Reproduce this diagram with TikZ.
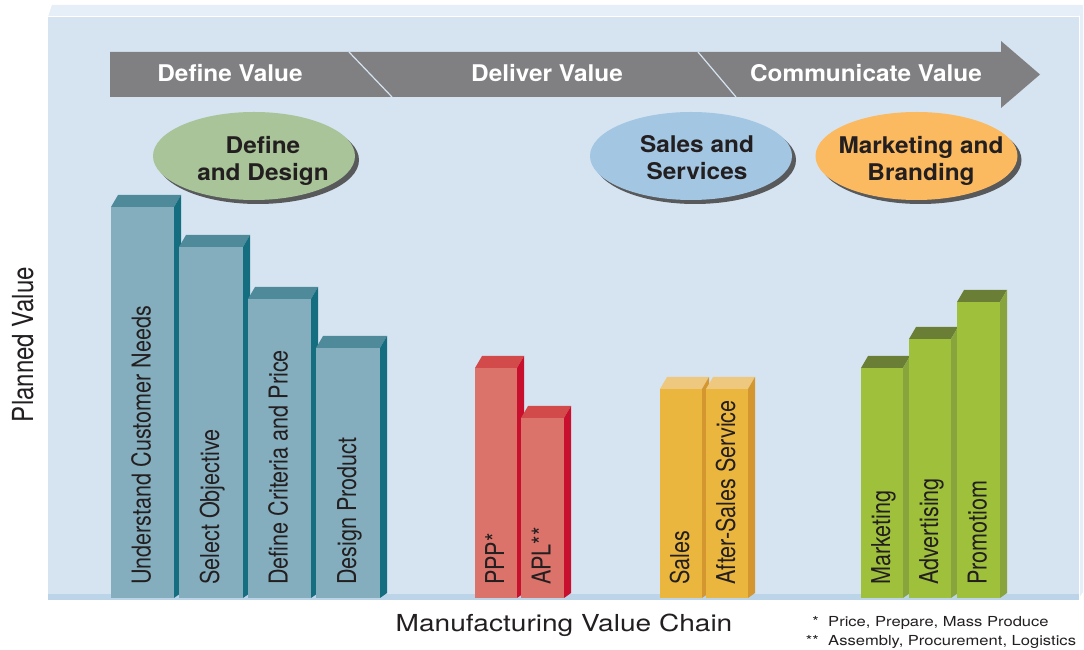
\documentclass[tikz,border=0pt]{standalone}
\usepackage{fontspec}
\setmainfont{TeX Gyre Heros}
\newfontfamily\widefont[FakeStretch=1.2]{TeX Gyre Heros}
\newfontfamily\tallfont[FakeStretch=0.83]{TeX Gyre Heros}
\newfontfamily\headfont[FakeStretch=1.06]{TeX Gyre Heros}
\usetikzlibrary{shapes.geometric,shadows,positioning}

\definecolor{ink}{HTML}{231F20}
\definecolor{panelfront}{HTML}{D6E4F1}
\definecolor{paneltop}{HTML}{E6EEF7}
\definecolor{floorline}{HTML}{BCD4E8}
\definecolor{arrowgray}{HTML}{808083}
\definecolor{shadowgray}{HTML}{58595B}
\definecolor{tealfront}{HTML}{84ADBD}
\definecolor{tealtop}{HTML}{4F8A9B}
\definecolor{tealside}{HTML}{146E80}
\definecolor{redfront}{HTML}{DC736B}
\definecolor{redtop}{HTML}{D24A4A}
\definecolor{redside}{HTML}{C8102E}
\definecolor{yelfront}{HTML}{EBB63E}
\definecolor{yeltop}{HTML}{EEC87F}
\definecolor{yelside}{HTML}{D4962F}
\definecolor{grnfront}{HTML}{9FC03B}
\definecolor{grntop}{HTML}{6A7E35}
\definecolor{grnside}{HTML}{87A43D}
\definecolor{dfill}{HTML}{A8C498}
\definecolor{sfill}{HTML}{A3C6E2}
\definecolor{mfill}{HTML}{FBB960}

% one 3D bar: name, colour, left x, width, height, label
\newcommand{\valuebar}[6]{%
  \node[barfront, fill=#2front, minimum width=#4, minimum height=#5] (#1) at (#3,52) {};
  \fill[#2top] (#1.north west) -- ++(7,12) -- ([shift={(7,12)}]#1.north east) -- (#1.north east) -- cycle;
  \fill[#2side] (#1.north east) -- ++(7,12) -- ([shift={(7,5)}]#1.south east) -- (#1.south east) -- cycle;
  \node[barlabel] (#1-label) at ([shift={(8,13)}]#1.south) {#6};
}

\begin{document}
\begin{tikzpicture}[x=1pt, y=1pt,
  barfront/.style={rectangle, anchor=south west, inner sep=0pt, outer sep=0pt},
  barlabel/.style={rotate=90, anchor=base west, inner sep=0pt, text=ink, font=\tallfont\fontsize{26}{26}\selectfont},
  phase/.style={anchor=base, inner sep=0pt, text=white, font=\headfont\bfseries\fontsize{23}{23}\selectfont},
  group/.style={ellipse, minimum width=202pt, minimum height=88pt, inner sep=0pt,
    drop shadow={shadow xshift=4pt, shadow yshift=-4pt, fill=shadowgray, opacity=1}},
  grouptext/.style={align=center, inner sep=0pt, text=ink, font=\headfont\bfseries\fontsize{23}{27}\selectfont},
  note/.style={anchor=base west, inner sep=0pt, text=ink, font=\widefont\fontsize{13.8}{13.8}\selectfont}]

  \useasboundingbox (0,0) rectangle (1084,650);

  % Panel
  \fill[paneltop] (48,633) -- (52,645) -- (1083,645) -- (1079,633) -- cycle;
  \fill[paneltop] (1079,633) -- (1083,645) -- (1083,58) -- (1079,52) -- cycle;
  \fill[panelfront] (48,52) rectangle (1079,633);
  \draw[white, line width=1pt] (48,633) -- (1079,633) -- (1079,52);
  \fill[floorline] (48,50) rectangle (1079,56);

  % Phase arrow
  \fill[arrowgray] (110,553) -- (110,598) -- (1001,598) -- (1001,609) -- (1040,575.5)
    -- (1001,542) -- (1001,553) -- cycle;
  \draw[panelfront, line width=1.2pt] (349,598) -- (392,553);
  \draw[panelfront, line width=1.2pt] (698,598) -- (736,553);
  \node[phase] (define-value) at (230,568.5) {Define Value};
  \node[phase] (deliver-value) at (547,568.5) {Deliver Value};
  \node[phase] (communicate-value) at (866,568.5) {Communicate Value};

  % Groups
  \node[group, fill=dfill] (define-design) at (254,494) {};
  \node[grouptext] (define-design-text) at (263,489.5) {Define\\and Design};
  \node[group, fill=sfill] (sales-services) at (691,494) {};
  \node[grouptext] (sales-services-text) at (697,492) {Sales and\\Services};
  \node[group, fill=mfill] (marketing-branding) at (916.5,494) {};
  \node[grouptext] (marketing-branding-text) at (921,489.5) {Marketing and\\Branding};

  % Bars
  \valuebar{needs}{teal}{111}{63}{391}{Understand Customer Needs}
  \valuebar{objective}{teal}{179}{64}{351}{Select Objective}
  \valuebar{criteria}{teal}{248}{63}{299}{Define Criteria and Price}
  \valuebar{design}{teal}{316}{64}{250}{Design Product}
  \valuebar{ppp}{red}{475}{42}{230}{PPP*}
  \valuebar{apl}{red}{521}{43}{180}{APL**}
  \valuebar{sales}{yel}{660}{42}{209}{Sales}
  \valuebar{aftersales}{yel}{706}{42}{209}{After-Sales Service}
  \valuebar{marketing}{grn}{861}{42}{230}{Marketing}
  \valuebar{advertising}{grn}{909}{42}{259}{Advertising}
  \valuebar{promotion}{grn}{957}{43}{296}{Promotiom}

  % Axes and notes
  \node[rotate=90, anchor=base, inner sep=0pt, text=ink, font=\tallfont\fontsize{29}{29}\selectfont]
    (planned-value) at (33,305.5) {Planned Value};
  \node[anchor=base, inner sep=0pt, text=ink, font=\widefont\fontsize{23.4}{23.4}\selectfont]
    (value-chain) at (564,18) {Manufacturing Value Chain};
  \node[note] (note-ppp) at (828,23) {Price, Prepare, Mass Produce};
  \node[note, anchor=base east] (note-ppp-mark) at (819,23) {*};
  \node[note] (note-apl) at (828,4) {Assembly, Procurement, Logistics};
  \node[note, anchor=base east] (note-apl-mark) at (819,4) {**};

\end{tikzpicture}
\end{document}
